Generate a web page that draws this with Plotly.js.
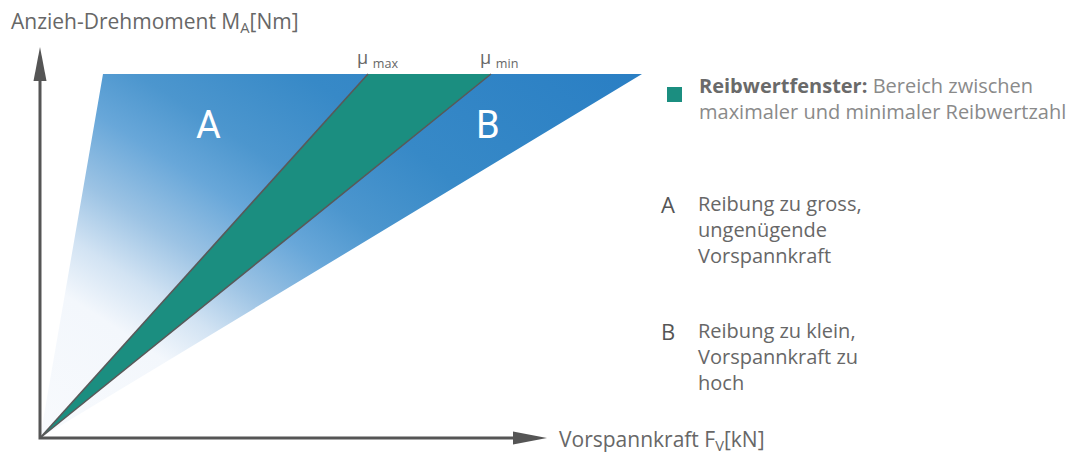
<!DOCTYPE html>
<html><head><meta charset="utf-8">
<script src="https://cdn.plot.ly/plotly-3.0.1.min.js"></script>
<style>html,body{margin:0;padding:0;background:#fff}</style>
</head><body><div id="chart" style="width:1080px;height:455px"></div>
<script>
// ---------- Daten (schematisch) ----------
const M_top = 36.4;                                   // Anzieh-Drehmoment am oberen Rand
const boundaryNames = ['Grenze A', 'μmax', 'μmin', 'Grenze B'];
const F_top = [6.3, 32.8, 45.1, 60.2];                 // Vorspannkraft am oberen Rand
const regionLabels = ['A', 'B'];
const muLabels = ['μ <sub>max</sub>', 'μ <sub>min</sub>'];
const axisTitles = ['Anzieh-Drehmoment M<sub>A</sub>[Nm]', 'Vorspannkraft F<sub>V</sub>[kN]'];
const legendTitle = 'Reibwertfenster:';
const legendText = ['Bereich zwischen', 'maximaler und minimaler Reibwertzahl'];
const descA = ['Reibung zu gross,', 'ungenügende', 'Vorspannkraft'];
const descB = ['Reibung zu klein,', 'Vorspannkraft zu', 'hoch'];

// ---------- Stil ----------
const GREEN = '#1b8e80';
const LINE = '#595959';
const TXT = '#676767';
const FONT = '"Open Sans", Roboto, sans-serif';
const W = 1080, H = 455, ox = 40, oy = 438, pxPerUnit = 10;

// gradient (projection along diagonal direction, in data units) -> colour
const gradStops = [[0,'#f8fafd'],[13.5,'#f3f7fc'],[18.5,'#d2e3f3'],[24,'#9cc3e4'],[30.5,'#68a7d9'],[36,'#4c96ce'],[45,'#3789c7'],[64,'#2a7fc4']];
const dir = [0.548, 0.837], R = 300, L = 370;
const cx = -R * dir[0], cy = -R * dir[1];
const colorscale = [[0, gradStops[0][1]]];
gradStops.forEach(s => colorscale.push([(R + s[0]) / L, s[1]]));
colorscale.push([1, gradStops[gradStops.length - 1][1]]);

const xr = [-ox / pxPerUnit, (W - ox) / pxPerUnit];
const yr = [-(H - oy) / pxPerUnit, oy / pxPerUnit];
const yTip = (oy - 47) / pxPerUnit, xTip = (547 - ox) / pxPerUnit, arrowLen = 3.3;

const traces = [
  { // Gesamtbereich mit Verlauf (Hilfspunkte ausserhalb des Bildes definieren die Verlaufsgeometrie)
    x: [0, cx - L, 0, F_top[0], F_top[3], cx + L, F_top[3], 0],
    y: [0, cy - L, 0, M_top, M_top, cy + L, M_top, 0],
    mode: 'lines', line: {width: 0, simplify: false}, fill: 'toself',
    fillgradient: {type: 'radial', colorscale: colorscale},
    hoverinfo: 'skip', showlegend: false
  },
  { // Reibwertfenster
    x: [0, F_top[1], F_top[2], 0], y: [0, M_top, M_top, 0],
    mode: 'lines', line: {width: 0}, fill: 'toself', fillcolor: GREEN,
    hoverinfo: 'skip', showlegend: false
  },
  {x: [0, F_top[1]], y: [0, M_top], mode: 'lines', line: {color: LINE, width: 1.6}, name: boundaryNames[1], showlegend: false},
  {x: [0, F_top[2]], y: [0, M_top], mode: 'lines', line: {color: LINE, width: 1.6}, name: boundaryNames[2], showlegend: false},
  { // Achsen
    x: [0, 0, xTip - arrowLen], y: [yTip - arrowLen, 0, 0],
    mode: 'lines', line: {color: '#555555', width: 3}, hoverinfo: 'skip', showlegend: false
  }
];

const P = (x, y) => ({x: x / W, y: 1 - y / H});
const ann = [];
function text(x, y, t, size, color, xanchor, yanchor, extra) {
  const p = P(x, y);
  ann.push(Object.assign({xref: 'paper', yref: 'paper', x: p.x, y: p.y, text: t, showarrow: false,
    xanchor: xanchor || 'left', yanchor: yanchor || 'middle', align: 'left',
    font: {family: FONT, size: size, color: color}}, extra || {}));
}
// Bereichsbuchstaben
ann.push({x: 16.8, y: 31.3, text: regionLabels[0], showarrow: false, font: {family: 'Roboto, sans-serif', size: 38, color: '#ffffff'}});
ann.push({x: 44.8, y: 31.3, text: regionLabels[1], showarrow: false, font: {family: 'Roboto, sans-serif', size: 38, color: '#ffffff'}});
// μ-Beschriftungen
[1, 2].forEach((k, i) => ann.push({x: F_top[k], y: M_top, text: muLabels[i], showarrow: false,
  xanchor: 'left', yanchor: 'bottom', xshift: -13, yshift: 0, font: {family: FONT, size: 18, color: TXT}}));
// Achsentitel
text(9, 22, axisTitles[0], 21, TXT);
text(557, 440, axisTitles[1], 21, TXT);
// Legende
text(697, 98, '<b>' + legendTitle + '</b> <span style="color:#8a8a8a">' + legendText[0] + '<br>' + legendText[1] + '</span>', 20, '#6a6a6a');
text(659, 204, regionLabels[0], 22, '#555555');
text(696, 229, descA.join('<br>'), 20, TXT);
text(659, 331, regionLabels[1], 22, '#555555');
text(696, 356, descB.join('<br>'), 20, TXT);

const shapes = [
  {type: 'rect', xref: 'paper', yref: 'paper', x0: 667 / W, x1: 682 / W, y0: 1 - 102 / H, y1: 1 - 87 / H,
   fillcolor: GREEN, line: {width: 0}},
  {type: 'path', xref: 'x', yref: 'y', xsizemode: 'pixel', ysizemode: 'pixel', xanchor: 0, yanchor: yTip,
   path: 'M0,0 L-6.5,-34 L6.5,-34 Z', fillcolor: '#555555', line: {width: 0}},
  {type: 'path', xref: 'x', yref: 'y', xsizemode: 'pixel', ysizemode: 'pixel', xanchor: xTip, yanchor: 0,
   path: 'M0,0 L-34,6.5 L-34,-6.5 Z', fillcolor: '#555555', line: {width: 0}}
];

const layout = {
  width: W, height: H, margin: {l: 0, r: 0, t: 0, b: 0},
  paper_bgcolor: '#ffffff', plot_bgcolor: '#ffffff', showlegend: false,
  xaxis: {range: xr, visible: false, fixedrange: true},
  yaxis: {range: yr, visible: false, fixedrange: true},
  annotations: ann, shapes: shapes
};
Plotly.newPlot('chart', traces, layout, {staticPlot: true});
</script></body></html>
